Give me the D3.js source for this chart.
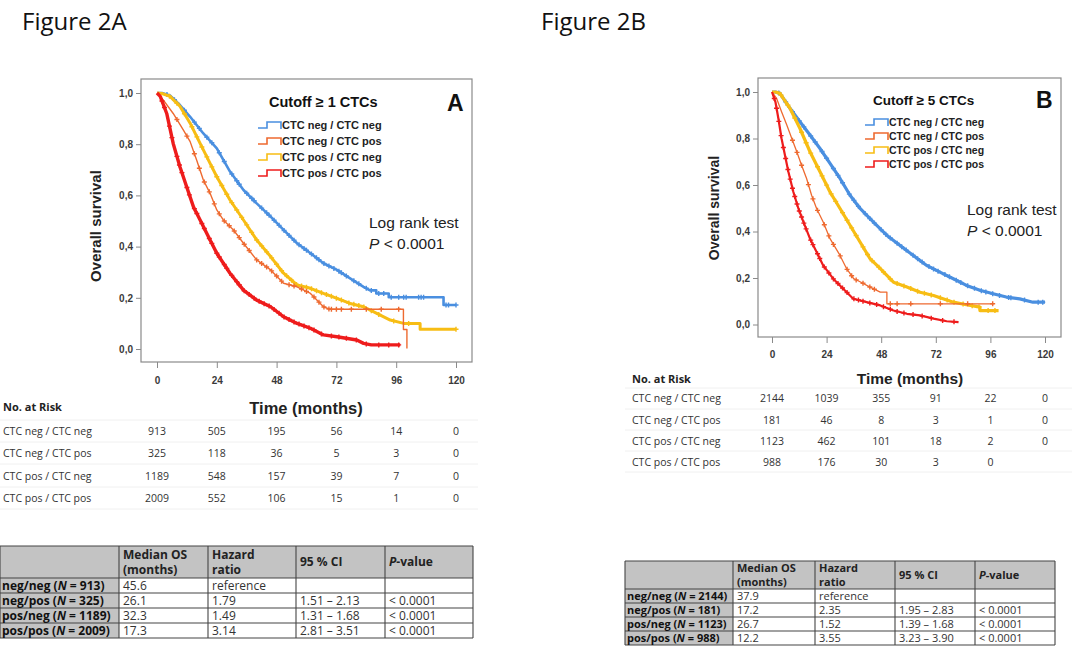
<!DOCTYPE html>
<html>
<head>
<meta charset="utf-8">
<script src="https://cdn.jsdelivr.net/npm/d3@7"></script>
<style>
  body { margin: 0; background: #fff; }
  svg text { font-family: "Liberation Sans", Arial, sans-serif; }
  .cal text { font-family: "Open Sans", "Noto Sans", sans-serif; }
</style>
</head>
<body>
<svg id="fig" width="1080" height="664"></svg>
<script>
// ---- shared ticks / groups
const timeTicks = [0, 24, 48, 72, 96, 120];
const survTicks = [0, 0.2, 0.4, 0.6, 0.8, 1.0];
const groups = ["CTC neg / CTC neg", "CTC neg / CTC pos", "CTC pos / CTC neg", "CTC pos / CTC pos"];
const groupColors = ["#4a8fe0", "#ee6a30", "#f7bd14", "#ee1c1c"];

// ---- Figure 2A (cutoff >= 1 CTC): [month, survival]
const curveA_negneg = [[0,1],[2,1],[5.2,0.99],[9.2,0.953],[13.3,0.907],[18.6,0.842],[24,0.784],[29.3,0.693],[34.7,0.621],[40,0.569],[45.6,0.517],[50.8,0.465],[56.2,0.413],[61.6,0.374],[66.8,0.335],[72.2,0.309],[77.5,0.276],[82.9,0.243],[85.5,0.229],[88,0.229],[88,0.217],[93,0.217],[93,0.202],[115,0.202],[115,0.172],[120,0.172]];
const curveA_negpos = [[0,1],[2.5,0.973],[6.5,0.92],[10.6,0.855],[13.3,0.81],[15.9,0.738],[18.6,0.66],[21.3,0.608],[24,0.543],[26.6,0.504],[30.7,0.465],[34.7,0.413],[40,0.348],[45.6,0.309],[50.8,0.257],[56.2,0.243],[61.6,0.217],[66.8,0.165],[69.4,0.155],[98.9,0.155],[98.9,0.076],[100.3,0.076],[100.3,0.002]];
const curveA_posneg = [[0,1],[2,0.998],[5.2,0.987],[9.2,0.948],[13.3,0.882],[17.3,0.803],[21.3,0.725],[24,0.673],[29.3,0.582],[34.7,0.504],[40,0.426],[45.6,0.361],[50.8,0.296],[56.2,0.25],[61.6,0.237],[66.8,0.217],[72.2,0.198],[77.5,0.178],[82.9,0.165],[88.2,0.139],[93.6,0.113],[99,0.1],[105.6,0.1],[105.6,0.077],[120,0.077]];
const curveA_pospos = [[0,1],[1.3,0.987],[3.9,0.92],[6.5,0.803],[9.2,0.712],[11.9,0.634],[14.6,0.556],[17.3,0.504],[21.3,0.426],[24,0.374],[29.3,0.296],[34.7,0.23],[40,0.191],[45.6,0.165],[50.8,0.126],[56.2,0.1],[61.6,0.081],[66.8,0.055],[72.2,0.048],[80.2,0.035],[82.9,0.022],[86,0.016],[97.6,0.016]];
const censorA_negneg = [4,7,11,15,17,20,22,25,27,30,32,33,36,38,39,42,44,45,47,49,51,53,55,57,59,60,62,64,65,67,69,71,73,74,76,79,81,84,86,89,91,94,97,99,100,105,106,107,116,117,120];
const censorA_negpos = [8,12,15,17,19,21,23,25,27,29,31,33,35,37,40,42,44,46,48,50,53,55,58,60,63,65,67,69,70,72,74,78,84,90,97];
const censorA_posneg = [5,8,11,14,16,18,20,22,24,26,28,30,32,34,36,38,40,42,44,46,48,50,52,54,56,58,60,62,64,66,68,70,72,74,77,79,81,83,86,89,95,101,120];
const censorA_pospos = [2,3,5,6,8,9,10,12,13,15,16,18,19,21,22,24,25,27,28,30,32,33,35,37,39,41,43,45,47,49,51,53,55,57,59,61,63,66,70,73,76,80,84,89,93,97];
const riskA = [[913,505,195,56,14,0],[325,118,36,5,3,0],[1189,548,157,39,7,0],[2009,552,106,15,1,0]];

// ---- Figure 2B (cutoff >= 5 CTC)
const curveB_negneg = [[0,1],[1.5,1],[3.5,0.994],[7.9,0.93],[12.3,0.872],[16.7,0.815],[21.1,0.757],[25.5,0.693],[29.9,0.628],[34.3,0.556],[38.7,0.499],[44.5,0.441],[50.4,0.384],[56.3,0.34],[62.1,0.297],[68,0.254],[73.8,0.225],[79.7,0.197],[85.5,0.168],[91.4,0.147],[97.2,0.132],[103,0.118],[108.9,0.11],[114.7,0.096],[120,0.096]];
const curveB_negpos = [[0,1],[2,0.973],[4.2,0.915],[6.5,0.858],[8.7,0.8],[10.9,0.743],[13,0.685],[15.2,0.628],[17.4,0.556],[19.6,0.499],[22.5,0.441],[25.5,0.369],[29.9,0.297],[32.8,0.24],[35.9,0.197],[38.7,0.184],[43.1,0.161],[47.6,0.139],[50.5,0.139],[50.5,0.089],[97.4,0.089]];
const curveB_posneg = [[0,1],[1.5,1],[3.5,0.994],[7.9,0.93],[12.3,0.843],[16.7,0.743],[21.1,0.657],[25.5,0.57],[29.9,0.499],[34.3,0.427],[38.7,0.355],[43.1,0.283],[47.6,0.24],[53.4,0.182],[59.3,0.161],[65.1,0.139],[71,0.125],[79.7,0.096],[85.5,0.085],[91.4,0.075],[91.4,0.06],[99.6,0.06]];
const curveB_pospos = [[0,1],[1.5,0.958],[2.8,0.886],[4.2,0.8],[5.7,0.728],[7.2,0.657],[9.4,0.57],[11.6,0.499],[13.8,0.441],[16.7,0.369],[19.6,0.312],[22.5,0.254],[26.9,0.197],[31.3,0.154],[35.7,0.111],[41.6,0.096],[47.6,0.082],[53.4,0.06],[59.3,0.046],[65.1,0.039],[71,0.025],[76.8,0.014],[82,0.01]];
const censorB_negneg = [3,6,9,12,14,17,19,22,24,27,29,31,34,36,38,41,43,45,48,50,52,55,57,59,62,64,66,69,71,73,76,78,81,83,86,89,92,94,97,100,104,105,111,117,119];
const censorB_negpos = [9,11,13,16,18,20,23,25,27,30,33,35,37,40,43,45,52,55,61,74,86,97];
const censorB_posneg = [4,7,10,13,15,17,20,22,24,26,28,31,33,35,37,40,42,44,47,49,52,55,58,61,64,67,70,74,77,80,84,88,91,95,98];
const censorB_pospos = [1,2,3,4,5,6,7,8,9,10,11,12,13,14,15,17,18,20,21,23,25,27,29,31,33,36,38,40,43,46,49,52,55,58,62,66,70,75,80];
const riskB = [[2144,1039,355,91,22,0],[181,46,8,3,1,0],[1123,462,101,18,2,0],[988,176,30,3,0]];

// ---- summary tables
const statLabels = ["neg/neg", "neg/pos", "pos/neg", "pos/pos"];
const statNA = [913, 325, 1189, 2009];
const medianA = ["45.6", "26.1", "32.3", "17.3"];
const hrA = ["reference", "1.79", "1.49", "3.14"];
const ciA = ["", "1.51 – 2.13", "1.31 – 1.68", "2.81 – 3.51"];
const pA = ["", "< 0.0001", "< 0.0001", "< 0.0001"];
const statNB = [2144, 181, 1123, 988];
const medianB = ["37.9", "17.2", "26.7", "12.2"];
const hrB = ["reference", "2.35", "1.52", "3.55"];
const ciB = ["", "1.95 – 2.83", "1.39 – 1.68", "3.23 – 3.90"];
const pB = ["", "< 0.0001", "< 0.0001", "< 0.0001"];

const svg = d3.select("#fig");
const axisGrey = "#8a8a8a";

// survival value on the drawn line at time t
function survAt(curve, t) {
  for (let i = curve.length - 1; i >= 0; i--) {
    if (curve[i][0] <= t) {
      const a = curve[i], b = curve[i + 1];
      if (!b || b[0] === a[0]) return a[1];
      return a[1] + (b[1] - a[1]) * (t - a[0]) / (b[0] - a[0]);
    }
  }
  return 1;
}

function drawPanel(p) {
  const x = d3.scaleLinear().domain([0, 120]).range(p.xRange);
  const y = d3.scaleLinear().domain([0, 1]).range(p.yRange);
  const g = svg.append("g");
  const [fx0, fy0, fx1, fy1] = p.frame;

  g.append("rect")
    .attr("x", fx0).attr("y", fy0)
    .attr("width", fx1 - fx0).attr("height", fy1 - fy0)
    .attr("fill", "none").attr("stroke", axisGrey).attr("stroke-width", 1.2);

  const yAxis = d3.axisLeft(y).tickValues(survTicks)
    .tickFormat(d => d3.format(".1f")(d).replace(".", ","))
    .tickSize(5).tickPadding(3);
  g.append("g").attr("transform", `translate(${fx0},0)`).call(yAxis)
    .call(a => a.select(".domain").remove())
    .call(a => a.selectAll("line").attr("stroke", axisGrey))
    .call(a => a.selectAll("text").attr("font-size", 10).attr("font-weight", "bold").attr("fill", "#3a3a3a"));

  const xAxis = d3.axisBottom(x).tickValues(timeTicks).tickSize(6).tickPadding(p.xPad);
  g.append("g").attr("transform", `translate(0,${fy1})`).call(xAxis)
    .call(a => a.select(".domain").remove())
    .call(a => a.selectAll("line").attr("stroke", axisGrey))
    .call(a => a.selectAll("text").attr("font-size", 10).attr("font-weight", "bold").attr("fill", "#3a3a3a"));

  // axis titles
  g.append("text").attr("transform", `translate(${p.yLab[0]},${p.yLab[1]}) rotate(-90)`)
    .attr("text-anchor", "middle").attr("font-size", p.labSize).attr("font-weight", "bold")
    .attr("fill", "#222").text("Overall survival");
  g.append("text").attr("x", p.xLab[0]).attr("y", p.xLab[1])
    .attr("text-anchor", "middle").attr("font-size", p.labSize + 1.5).attr("font-weight", "bold")
    .attr("fill", "#222").text("Time (months)");

  // curves + censor marks
  const line = d3.line().x(d => x(d[0])).y(d => y(d[1]));
  p.order.forEach(i => {
    g.append("path").attr("d", line(p.curves[i]))
      .attr("fill", "none").attr("stroke", groupColors[i])
      .attr("stroke-width", p.widths[i]).attr("stroke-linejoin", "round");
    g.selectAll(null).data(p.censors[i]).enter().append("path")
      .attr("transform", t => `translate(${x(t)},${y(survAt(p.curves[i], t))})`)
      .attr("d", "M-2.5,0H2.5M0,-2.5V2.5")
      .attr("stroke", groupColors[i]).attr("stroke-width", 1.4);
  });

  // legend
  g.append("text").attr("x", p.legTitle[0]).attr("y", p.legTitle[1])
    .attr("font-family", "'Open Sans', sans-serif").attr("font-size", p.legTitleSize)
    .attr("font-weight", "bold").attr("fill", "#111").text(p.cutoff);
  g.append("text").attr("x", p.letter[0]).attr("y", p.letter[1])
    .attr("font-size", 23).attr("font-weight", "bold").attr("fill", "#111").text(p.letterText);
  const leg = g.selectAll(".leg").data(groups).enter().append("g")
    .attr("transform", (d, i) => `translate(${p.legPos[0]},${p.legPos[1] + i * p.legStep})`);
  leg.append("path").attr("d", "M0,3H9V-3H23V4")
    .attr("fill", "none").attr("stroke", (d, i) => groupColors[i]).attr("stroke-width", 1.6);
  leg.append("text").attr("x", 24).attr("y", 4)
    .attr("font-size", p.legSize).attr("font-weight", "bold").attr("fill", "#222").text(d => d);

  // log rank
  g.append("text").attr("x", p.logRank[0]).attr("y", p.logRank[1])
    .attr("font-family", "'Open Sans', sans-serif").attr("font-size", 15.5).attr("fill", "#222")
    .text("Log rank test");
  const pt = g.append("text").attr("x", p.logRank[0]).attr("y", p.logRank[1] + 21)
    .attr("font-family", "'Open Sans', sans-serif").attr("font-size", 15.5).attr("fill", "#222");
  pt.append("tspan").attr("font-style", "italic").text("P");
  pt.append("tspan").text(" < 0.0001");

  // number at risk
  const r = svg.append("g").attr("class", "cal");
  p.riskLines.forEach(ly => {
    r.append("line").attr("x1", p.riskSpan[0]).attr("x2", p.riskSpan[1])
      .attr("y1", ly).attr("y2", ly).attr("stroke", "#f0f0f0");
  });
  r.append("text").attr("x", p.riskX).attr("y", p.riskHead + 4)
    .attr("font-size", 11).attr("font-weight", "bold").attr("fill", "#222").text("No. at Risk");
  p.risk.forEach((row, i) => {
    const ry = p.riskRows[i] + 4;
    r.append("text").attr("x", p.riskX).attr("y", ry)
      .attr("font-size", 10.5).attr("fill", "#333").text(groups[i]);
    r.selectAll(null).data(row).enter().append("text")
      .attr("x", (d, j) => x(timeTicks[j])).attr("y", ry)
      .attr("text-anchor", "middle").attr("font-size", 10.5).attr("fill", "#333").text(d => d);
  });
}

function drawStatTable(t) {
  const g = svg.append("g").attr("class", "cal");
  const c = t.cols;
  const rowY = i => t.headBottom + i * t.rowH;
  const bottom = rowY(statLabels.length);
  g.append("rect").attr("x", c[0]).attr("y", t.top).attr("width", c[5] - c[0])
    .attr("height", t.headBottom - t.top).attr("fill", "#c3c3c3");
  g.append("rect").attr("x", c[0]).attr("y", t.headBottom).attr("width", c[1] - c[0])
    .attr("height", bottom - t.headBottom).attr("fill", "#c3c3c3");
  const hy = [t.top, t.headBottom].concat(statLabels.map((d, i) => rowY(i + 1)));
  hy.forEach(v => g.append("line").attr("x1", c[0]).attr("x2", c[5]).attr("y1", v).attr("y2", v)
    .attr("stroke", "#444").attr("stroke-width", 1.1));
  c.forEach(v => g.append("line").attr("x1", v).attr("x2", v).attr("y1", t.top).attr("y2", bottom)
    .attr("stroke", "#444").attr("stroke-width", 1.1));

  const fs = t.fontSize;
  const midHead = (t.top + t.headBottom) / 2;
  const head = (col, lines) => lines.forEach((s, k) => {
    g.append("text").attr("x", c[col] + 4)
      .attr("y", lines.length === 1 ? midHead + fs * 0.35 : midHead - 3 + k * (fs + 3))
      .attr("font-size", fs).attr("font-weight", "bold").attr("fill", "#222").text(s);
  });
  head(1, ["Median OS", "(months)"]);
  head(2, ["Hazard", "ratio"]);
  head(3, ["95 % CI"]);
  const pv = g.append("text").attr("x", c[4] + 4).attr("y", midHead + fs * 0.35)
    .attr("font-size", fs).attr("font-weight", "bold").attr("fill", "#222");
  pv.append("tspan").attr("font-style", "italic").text("P");
  pv.append("tspan").text("-value");

  statLabels.forEach((lab, i) => {
    const ty = rowY(i) + t.rowH / 2 + fs * 0.35;
    const lt = g.append("text").attr("x", c[0] + 2).attr("y", ty)
      .attr("font-size", fs).attr("font-weight", "bold").attr("fill", "#111");
    lt.append("tspan").text(lab + " (");
    lt.append("tspan").attr("font-style", "italic").text("N");
    lt.append("tspan").text(" = " + t.n[i] + ")");
    [t.median[i], t.hr[i], t.ci[i], t.p[i]].forEach((v, k) => {
      g.append("text").attr("x", c[k + 1] + 4).attr("y", ty)
        .attr("font-size", fs).attr("fill", "#333").text(v);
    });
  });
}

// figure titles
svg.append("g").attr("class", "cal").selectAll("text")
  .data([["Figure 2A", 22], ["Figure 2B", 541]]).enter().append("text")
  .attr("x", d => d[1]).attr("y", 30).attr("font-size", 24).attr("fill", "#111").text(d => d[0]);

drawPanel({
  frame: [141, 79, 472, 362], xRange: [157, 456], yRange: [349, 93], xPad: 9,
  yLab: [101, 226], xLab: [306, 414], labSize: 15,
  curves: [curveA_negneg, curveA_negpos, curveA_posneg, curveA_pospos],
  censors: [censorA_negneg, censorA_negpos, censorA_posneg, censorA_pospos],
  widths: [2.6, 1.4, 3.0, 3.4], order: [0, 2, 1, 3],
  cutoff: "Cutoff ≥ 1 CTCs", legTitle: [269, 107], legTitleSize: 14.5,
  letter: [447, 111], letterText: "A",
  legPos: [258, 125], legStep: 16, legSize: 11,
  logRank: [369, 228],
  risk: riskA, riskX: 3, riskHead: 407, riskRows: [431, 453, 476, 498],
  riskLines: [420, 442, 464, 487, 509], riskSpan: [0, 478]
});

drawPanel({
  frame: [758, 78, 1061, 337], xRange: [772, 1045], yRange: [324.5, 92], xPad: 8,
  yLab: [719, 208], xLab: [910, 384], labSize: 14,
  curves: [curveB_negneg, curveB_negpos, curveB_posneg, curveB_pospos],
  censors: [censorB_negneg, censorB_negpos, censorB_posneg, censorB_pospos],
  widths: [3.2, 1.3, 3.2, 2.2], order: [0, 2, 1, 3],
  cutoff: "Cutoff ≥ 5 CTCs", legTitle: [873, 105], legTitleSize: 13.5,
  letter: [1036, 108], letterText: "B",
  legPos: [865, 122], legStep: 14, legSize: 10.5,
  logRank: [967, 215],
  risk: riskB, riskX: 632, riskHead: 379, riskRows: [398, 420, 441, 462],
  riskLines: [388, 409, 430, 451, 472], riskSpan: [625, 1072]
});

drawStatTable({
  cols: [0, 119, 208, 296, 385, 473], top: 546, headBottom: 578, rowH: 15, fontSize: 12,
  n: statNA, median: medianA, hr: hrA, ci: ciA, p: pA
});
drawStatTable({
  cols: [625, 733, 815, 895, 975, 1055], top: 561, headBottom: 589, rowH: 14, fontSize: 11,
  n: statNB, median: medianB, hr: hrB, ci: ciB, p: pB
});
</script>
</body>
</html>
